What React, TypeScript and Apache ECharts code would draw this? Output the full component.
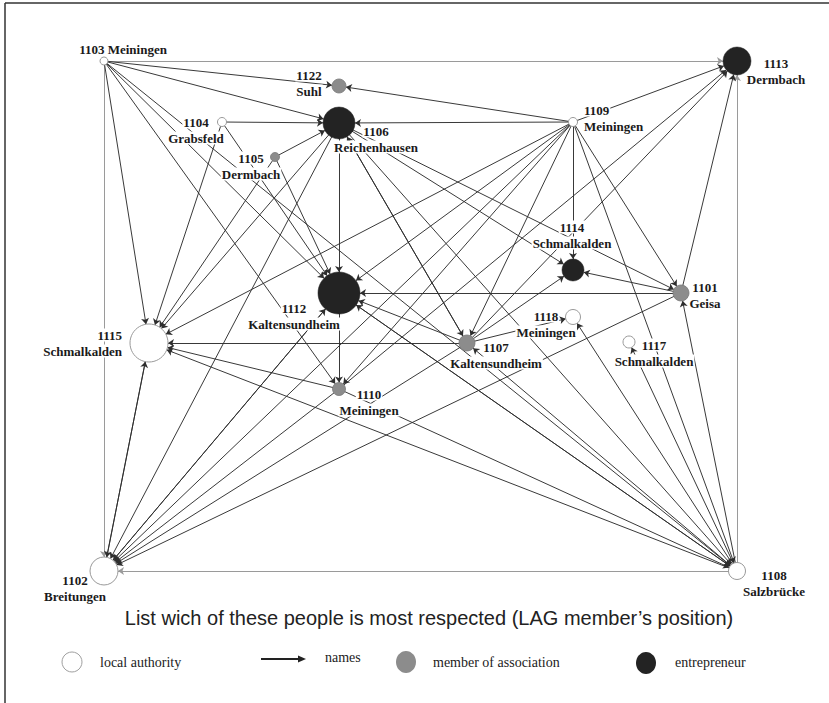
import React, { useEffect, useRef } from "react";
import * as echarts from "echarts";

// ---------- data ----------
const nodeIds = ["1103", "1122", "1104", "1106", "1105", "1109", "1113", "1114", "1101", "1112", "1118", "1117", "1107", "1115", "1110", "1102", "1108"];
const nodeNames = ["Meiningen", "Suhl", "Grabsfeld", "Reichenhausen", "Dermbach", "Meiningen", "Dermbach", "Schmalkalden", "Geisa", "Kaltensundheim", "Meiningen", "Schmalkalden", "Kaltensundheim", "Schmalkalden", "Meiningen", "Breitungen", "Salzbrücke"];
const nodeRoles = ["local", "member", "local", "entrepreneur", "member", "local", "entrepreneur", "entrepreneur", "member", "entrepreneur", "local", "local", "member", "local", "member", "local", "local"];
// how often named (drives node size)
const nodeSizes = [8, 14, 9, 32, 9, 9, 28, 22, 16, 42, 15, 12, 16, 38, 13, 28, 17];

const frameLinks: [string, string][] = [
  ["1103", "1113"], ["1103", "1102"], ["1108", "1113"], ["1108", "1102"],
];
const links: [string, string][] = [
  ["1103", "1122"], ["1103", "1106"], ["1103", "1115"], ["1103", "1112"], ["1103", "1110"], ["1103", "1108"],
  ["1109", "1122"], ["1109", "1106"], ["1109", "1113"], ["1109", "1114"], ["1109", "1112"], ["1109", "1115"],
  ["1109", "1102"], ["1109", "1107"], ["1109", "1101"], ["1109", "1108"], ["1109", "1110"],
  ["1104", "1106"], ["1104", "1115"], ["1104", "1112"],
  ["1105", "1106"], ["1105", "1112"], ["1105", "1115"],
  ["1106", "1112"], ["1106", "1115"], ["1106", "1102"], ["1106", "1107"], ["1106", "1114"], ["1106", "1101"], ["1106", "1108"],
  ["1112", "1102"], ["1112", "1110"], ["1112", "1108"],
  ["1102", "1112"], ["1102", "1115"], ["1115", "1102"],
  ["1110", "1115"], ["1110", "1113"], ["1110", "1102"], ["1110", "1108"],
  ["1107", "1112"], ["1107", "1115"], ["1107", "1113"], ["1107", "1114"], ["1107", "1118"], ["1107", "1102"], ["1107", "1106"],
  ["1101", "1113"], ["1101", "1114"], ["1101", "1112"], ["1101", "1102"],
  ["1108", "1118"], ["1108", "1117"], ["1108", "1101"], ["1108", "1107"], ["1108", "1112"], ["1108", "1115"],
];

const titleText = "List wich of these people is most respected (LAG member\u2019s position)";
const legendLabels = ["local authority", "names", "member of association", "entrepreneur"];

// ---------- layout (positions of the drawing) ----------
const layoutX = [104, 339, 222, 339, 275, 573, 737, 573, 681, 339, 573, 629, 467, 149, 339, 104, 737];
const layoutY = [61, 86, 122, 123, 157, 122, 61, 270, 293, 293, 317, 342, 343, 343, 389, 571, 571];
const labelDx = [19, -30, -26, 37, -24, 10, 39, -1, 24, -45, -27, 25, 29, -26, 30, -29, 37];
const labelDy = [-12, -3, 8, 16, 9, -4, 10, -35, 2, 23, 7, 11, 12, 0, 13, 17, 12];
const labelAlign = ["center", "center", "center", "center", "center", "left", "center", "center", "center", "center", "center", "center", "center", "right", "center", "center", "center"];

const roleStyle: Record<string, any> = {
  local: { color: "#ffffff", borderColor: "#9a9a9a", borderWidth: 1 },
  member: { color: "#8c8c8c", borderColor: "#7a7a7a", borderWidth: 0.8 },
  entrepreneur: { color: "#232323", borderColor: "#1a1a1a", borderWidth: 0.5 },
};

const serif = "'Liberation Serif', 'DejaVu Serif', serif";

export default function App() {
  const ref = useRef<HTMLDivElement>(null);
  useEffect(() => {
    if (!ref.current) return;
    const chart = echarts.init(ref.current, undefined, { renderer: "svg" });

    const nodes = nodeIds.map((id, i) => ({
      name: id,
      value: [layoutX[i], layoutY[i]],
      symbol: "circle",
      symbolSize: nodeSizes[i],
      itemStyle: roleStyle[nodeRoles[i]],
      label: {
        show: true,
        position: "inside",
        offset: [labelDx[i], labelDy[i]],
        align: labelAlign[i],
        verticalAlign: "middle",
        formatter: i === 0 ? `{t|${id} ${nodeNames[i]}}` : `{t|${id}}\n{t|${nodeNames[i]}}`,
        rich: {
          t: {
            fontFamily: serif,
            fontWeight: "bold",
            fontSize: 13,
            lineHeight: 16,
            color: "#1a1a1a",
            backgroundColor: "#ffffff",
            padding: [0, 1],
          },
        },
      },
    }));

    const allLinks = [
      ...frameLinks.map(([s, t]) => ({ source: s, target: t, lineStyle: { color: "#9a9a9a", width: 1 } })),
      ...links.map(([s, t]) => ({ source: s, target: t })),
    ];

    const legendY = 662;
    chart.setOption({
      animation: false,
      grid: { left: 0, right: 0, top: 0, bottom: 0 },
      xAxis: { type: "value", min: 0, max: 829, show: false },
      yAxis: { type: "value", min: 0, max: 703, inverse: true, show: false },
      series: [
        {
          type: "graph",
          coordinateSystem: "cartesian2d",
          layout: "none",
          data: nodes,
          links: allLinks,
          edgeSymbol: ["none", "arrow"],
          edgeSymbolSize: [0, 6],
          lineStyle: { color: "#2e2e2e", width: 0.95, opacity: 1, curveness: 0 },
          emphasis: { disabled: true },
          silent: true,
        },
      ],
      graphic: [
        { type: "line", shape: { x1: 5, y1: 3, x2: 829, y2: 3 }, style: { stroke: "#333", lineWidth: 1.5 } },
        { type: "line", shape: { x1: 5, y1: 3, x2: 5, y2: 703 }, style: { stroke: "#333", lineWidth: 1.5 } },
        {
          type: "text", x: 429, y: 618,
          style: { text: titleText, fill: "#222", font: "20px 'Liberation Sans', Arial, sans-serif", textAlign: "center", textVerticalAlign: "middle" },
        },
        { type: "circle", shape: { cx: 72, cy: legendY, r: 10 }, style: { fill: "#fff", stroke: "#a0a0a0", lineWidth: 1 } },
        { type: "text", x: 100, y: legendY, style: { text: legendLabels[0], fill: "#222", font: `14px ${serif}`, textVerticalAlign: "middle" } },
        { type: "line", shape: { x1: 261, y1: 659, x2: 300, y2: 659 }, style: { stroke: "#222", lineWidth: 2 } },
        { type: "polygon", shape: { points: [[298, 655.5], [306, 659], [298, 662.5]] }, style: { fill: "#222" } },
        { type: "text", x: 325, y: 657, style: { text: legendLabels[1], fill: "#222", font: `14px ${serif}`, textVerticalAlign: "middle" } },
        { type: "ellipse", shape: { cx: 406, cy: legendY, rx: 10, ry: 11 }, style: { fill: "#8c8c8c" } },
        { type: "text", x: 433, y: legendY, style: { text: legendLabels[2], fill: "#222", font: `14px ${serif}`, textVerticalAlign: "middle" } },
        { type: "ellipse", shape: { cx: 646, cy: 663, rx: 10, ry: 11 }, style: { fill: "#232323" } },
        { type: "text", x: 675, y: legendY, style: { text: legendLabels[3], fill: "#222", font: `14px ${serif}`, textVerticalAlign: "middle" } },
      ],
    });
    return () => chart.dispose();
  }, []);

  return (
    <div
      ref={ref}
      style={{ position: "fixed", left: 0, top: 0, width: 829, height: 703, background: "#fff" }}
    />
  );
}
